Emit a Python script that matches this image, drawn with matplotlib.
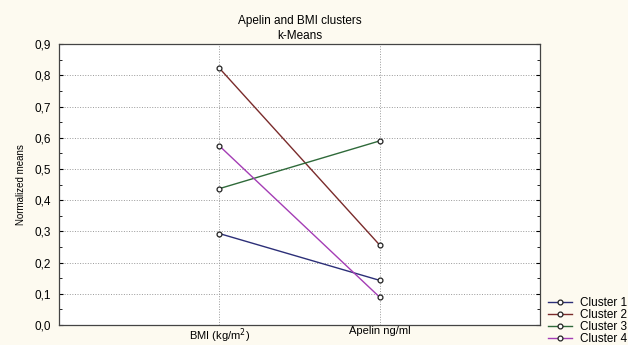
import matplotlib
matplotlib.use("Agg")
import matplotlib.pyplot as plt
from matplotlib.ticker import FuncFormatter, MultipleLocator

# data
variables = ["BMI (kg/m$^2$)", "Apelin ng/ml"]
cluster_names = ["Cluster 1", "Cluster 2", "Cluster 3", "Cluster 4"]
cluster1 = [0.293, 0.143]
cluster2 = [0.823, 0.256]
cluster3 = [0.437, 0.590]
cluster4 = [0.574, 0.089]
yticks = [0.0, 0.1, 0.2, 0.3, 0.4, 0.5, 0.6, 0.7, 0.8, 0.9]

colors = ["#2c2f78", "#7a2b2b", "#2f6a3a", "#a43db5"]

plt.rcParams['font.family'] = ['Liberation Sans', 'DejaVu Sans']

fig = plt.figure(figsize=(6.28, 3.45), dpi=100)
fig.patch.set_facecolor("#fdfaf0")
ax = fig.add_axes([0.094, 0.058, 0.766, 0.814])
ax.set_facecolor("white")

xs = list(range(len(variables)))
for vals, name, c in zip([cluster1, cluster2, cluster3, cluster4], cluster_names, colors):
    ax.plot(xs, vals, color=c, lw=1.0, marker="o", ms=3.5, mfc="white",
            mec="#222222", mew=0.9, label=name)

ax.set_xlim(-1, 2)
ax.set_ylim(0, 0.9)
ax.set_xticks(xs)
ax.set_xticklabels(variables, fontsize=8)
ax.set_yticks(yticks)
ax.yaxis.set_major_formatter(FuncFormatter(lambda v, p: f"{v:.1f}".replace(".", ",")))
ax.yaxis.set_minor_locator(MultipleLocator(0.05))
ax.tick_params(axis="y", labelsize=8.5, direction="in", length=3, right=True, pad=6)
ax.tick_params(axis="y", which="minor", direction="in", length=2, right=True)
ax.tick_params(axis="x", length=0, pad=1)
ax.grid(True, color="#999999", ls=":", lw=0.7)

for s in ax.spines.values():
    s.set_color("#444444")
    s.set_linewidth(0.9)

ax.set_ylabel("Normalized means", fontsize=7, labelpad=6)
ax.set_title("Apelin and BMI clusters\nk-Means", fontsize=8.5, pad=4, linespacing=1.3)

ax.legend(loc="lower left", bbox_to_anchor=(1.0, -0.1), frameon=False,
          fontsize=8.5, handlelength=2.0, handletextpad=0.7, labelspacing=0.0,
          borderaxespad=0.3)

fig.savefig("out.png", dpi=100, facecolor=fig.get_facecolor())
